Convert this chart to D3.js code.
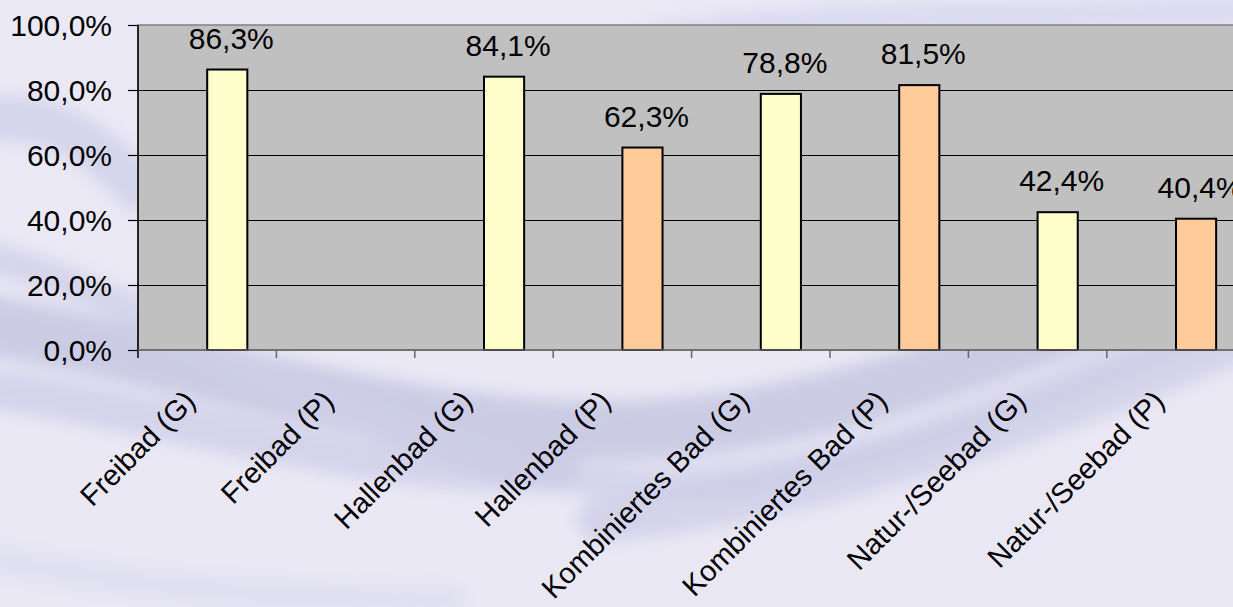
<!DOCTYPE html>
<html>
<head>
<meta charset="utf-8">
<script src="https://cdn.jsdelivr.net/npm/d3@7"></script>
<style>
  html, body { margin: 0; padding: 0; background: #ebe9f5; overflow: hidden; }
  svg { display: block; }
  text { font-family: "Liberation Sans", Arial, sans-serif; fill: #000; }
</style>
</head>
<body>
<svg id="chart" width="1233" height="607"></svg>
<script>
// ---- data ----
const categories = ["Freibad (G)", "Freibad (P)", "Hallenbad (G)", "Hallenbad (P)",
                    "Kombiniertes Bad (G)", "Kombiniertes Bad (P)", "Natur-/Seebad (G)", "Natur-/Seebad (P)"];
const values = [0.863, null, 0.841, 0.623, 0.788, 0.815, 0.424, 0.404];
const groups = ["G", "P", "G", "P", "G", "P", "G", "P"];
const yTicks = [0, 0.2, 0.4, 0.6, 0.8, 1.0];

// ---- layout ----
const W = 1233, H = 607;
const plot = { left: 138, top: 25, bottom: 350, right: 138 + 8 * 138.4 };
const fontSize = 30;
const xFontSize = 29;
const colors = { G: "#FFFFCC", P: "#FFCC99" };

const svg = d3.select("#chart");
const defs = svg.append("defs");

// background
const bg = defs.append("linearGradient").attr("id", "bgGrad")
  .attr("x1", "0").attr("y1", "0").attr("x2", "1").attr("y2", "1");
bg.append("stop").attr("offset", "0%").attr("stop-color", "#ebe9f6");
bg.append("stop").attr("offset", "100%").attr("stop-color", "#e9e7f4");
svg.append("rect").attr("width", W).attr("height", H).attr("fill", "url(#bgGrad)");

defs.append("filter").attr("id", "blur").attr("x", "-20%").attr("y", "-20%").attr("width", "140%").attr("height", "140%")
  .append("feGaussianBlur").attr("stdDeviation", 8);

const swirl = svg.append("g").attr("filter", "url(#blur)").attr("fill", "none");
const swirls = [
  { d: "M -40 320 C 200 360 420 440 640 430 C 860 420 1050 330 1260 250", w: 60, c: "#c6c7e2", o: 0.85 },
  { d: "M -40 250 C 150 290 300 420 520 470 C 760 520 980 420 1260 300", w: 30, c: "#cfd0e8", o: 0.8 },
  { d: "M 0 390 C 200 420 380 480 560 470", w: 40, c: "#cbcbe5", o: 0.7 },
  { d: "M 600 520 C 800 500 1000 440 1260 330", w: 45, c: "#cacae5", o: 0.7 },
  { d: "M 650 40 C 800 10 1000 20 1240 10", w: 25, c: "#d6d6ed", o: 0.8 },
  { d: "M -20 120 C 60 110 100 150 140 190", w: 45, c: "#cfd0e8", o: 0.8 },
  { d: "M 0 560 C 150 590 300 600 450 600", w: 30, c: "#dadaee", o: 0.6 }
];
swirl.selectAll("path").data(swirls).join("path")
  .attr("d", d => d.d).attr("stroke", d => d.c).attr("stroke-width", d => d.w)
  .attr("stroke-opacity", d => d.o).attr("stroke-linecap", "round");

// scales
const x = d3.scaleBand().domain(categories).range([plot.left, plot.right]).padding(0);
const y = d3.scaleLinear().domain([0, 1]).range([plot.bottom, plot.top]);
const locale = d3.formatLocale({ decimal: ",", thousands: ".", grouping: [3], currency: ["", "€"] });
const fmtTick = locale.format(".1%");
const fmtVal = locale.format(".1%");

// plot area
svg.append("rect").attr("x", plot.left).attr("y", plot.top)
  .attr("width", plot.right - plot.left).attr("height", plot.bottom - plot.top)
  .attr("fill", "#c0c0c0").attr("stroke", "#808080").attr("stroke-width", 1.5);

// gridlines
svg.append("g").selectAll("line").data(yTicks.filter(t => t > 0 && t < 1)).join("line")
  .attr("x1", plot.left).attr("x2", plot.right)
  .attr("y1", d => Math.round(y(d)) + 0.5).attr("y2", d => Math.round(y(d)) + 0.5)
  .attr("stroke", "#000").attr("stroke-width", 1);

// bars
const bw = x.bandwidth() * 0.29;
const barData = categories.map((c, i) => ({ c, v: values[i], g: groups[i] })).filter(d => d.v != null);
svg.append("g").selectAll("rect").data(barData).join("rect")
  .attr("x", d => x(d.c) + x.bandwidth() / 2)
  .attr("y", d => y(d.v))
  .attr("width", bw)
  .attr("height", d => y(0) - y(d.v))
  .attr("fill", d => colors[d.g])
  .attr("stroke", "#000").attr("stroke-width", 2);

// value labels
svg.append("g").selectAll("text").data(barData).join("text")
  .attr("x", d => x(d.c) + x.bandwidth() / 2 + bw / 2 + 4)
  .attr("y", d => y(d.v) - 21)
  .attr("text-anchor", "middle")
  .attr("font-size", fontSize)
  .text(d => fmtVal(d.v));

// y axis
const yAxis = d3.axisLeft(y).tickValues(yTicks).tickFormat(fmtTick).tickSize(10).tickPadding(16);
const gy = svg.append("g").attr("transform", `translate(${plot.left},0)`).call(yAxis);
gy.select(".domain").remove();
gy.selectAll(".tick line").attr("stroke", "#000").attr("stroke-width", 1.2);
gy.selectAll(".tick text").attr("font-size", fontSize)
  .attr("font-family", '"Liberation Sans", Arial, sans-serif').attr("fill", "#000")
  .attr("dy", "0.35em");
svg.append("line").attr("x1", plot.left).attr("x2", plot.left)
  .attr("y1", plot.top).attr("y2", plot.bottom + 8)
  .attr("stroke", "#000").attr("stroke-width", 1.5);

// x axis line and category boundary ticks
svg.append("line").attr("x1", plot.left).attr("x2", plot.right)
  .attr("y1", plot.bottom).attr("y2", plot.bottom)
  .attr("stroke", "#666").attr("stroke-width", 1.5);
svg.append("g").selectAll("line").data(categories.slice(1)).join("line")
  .attr("x1", d => x(d)).attr("x2", d => x(d))
  .attr("y1", plot.bottom).attr("y2", plot.bottom + 8)
  .attr("stroke", "#666").attr("stroke-width", 1.5);

// x labels rotated
svg.append("g").selectAll("text").data(categories).join("text")
  .attr("transform", d => `translate(${x(d) + x.bandwidth() / 2 - 10},${plot.bottom + 53}) rotate(-45)`)
  .attr("text-anchor", "end")
  .attr("font-size", xFontSize)
  .text(d => d);
</script>
</body>
</html>
